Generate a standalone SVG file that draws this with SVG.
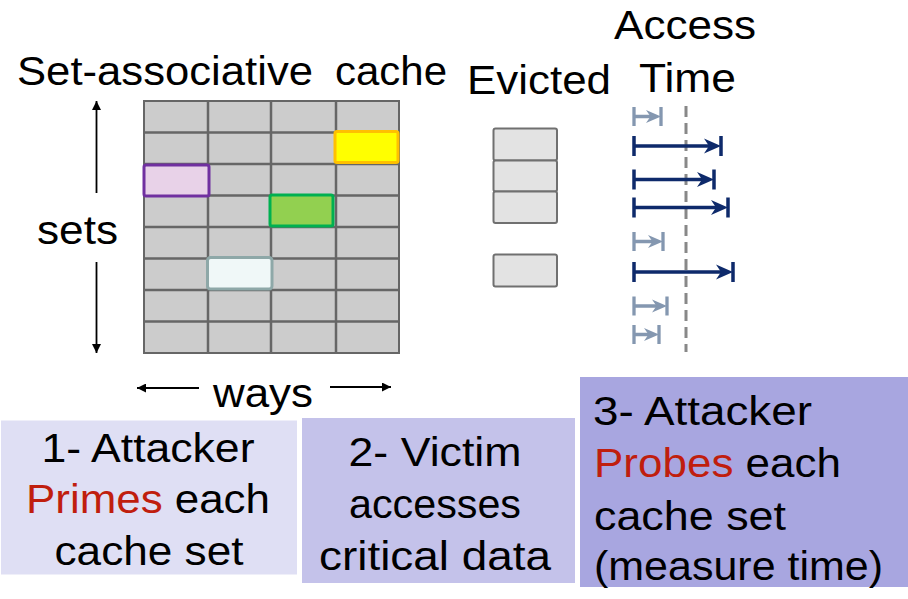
<svg xmlns="http://www.w3.org/2000/svg" xmlns:xlink="http://www.w3.org/1999/xlink" width="908" height="599" viewBox="0 0 908 599">
  <style>
    text { font-family: "Liberation Sans", Arial, Helvetica, sans-serif; font-size: 40px; fill: #000; }
    .red { fill: #C01E0E; }
    .cell { fill: #CCCCCC; stroke: #666666; stroke-width: 2; }
    .evict { fill: #E3E3E3; stroke: #707070; stroke-width: 2; }
    .axis { stroke: #000; stroke-width: 1.8; fill: none; }
    .dark { stroke: #0E2A6B; stroke-width: 3.5; fill: none; }
    .light { stroke: #8497B0; stroke-width: 3.3; fill: none; }
    .thr { stroke: #888888; stroke-width: 3; stroke-dasharray: 11 6; fill: none; }
  </style>
  <defs>
    <marker id="axisHead" viewBox="0 0 10 10" refX="10" refY="5" markerWidth="10" markerHeight="9" markerUnits="userSpaceOnUse" orient="auto">
      <path d="M0,0 L10,5 L0,10 Z" fill="#000"/>
    </marker>
    <!-- arrow tips, drawn with the point at the origin -->
    <path id="darkTip" d="M-17,-7.5 L0,0 L-17,7.5 L-12,0 Z" fill="#0E2A6B"/>
    <path id="lightTip" d="M-15,-6.5 L0,0 L-15,6.5 L-10.5,0 Z" fill="#8497B0"/>
  </defs>

  <!-- titles -->
  <g id="titles">
    <text x="17" y="85" textLength="296" lengthAdjust="spacingAndGlyphs">Set-associative</text>
    <text x="335" y="85" textLength="112" lengthAdjust="spacingAndGlyphs">cache</text>
    <text x="467" y="94" textLength="144" lengthAdjust="spacingAndGlyphs">Evicted</text>
    <text x="614" y="39" textLength="142" lengthAdjust="spacingAndGlyphs">Access</text>
    <text x="639" y="92" textLength="97" lengthAdjust="spacingAndGlyphs">Time</text>
  </g>

  <!-- cache grid: 4 ways x 8 sets -->
  <g id="cache">
    <rect class="cell" x="144" y="101" width="255" height="252"/>
    <path d="M208,101 V353 M271,101 V353 M336,101 V353 M144,132.5 H399 M144,164 H399 M144,195.5 H399 M144,227 H399 M144,258.5 H399 M144,290 H399 M144,321.5 H399" stroke="#666666" stroke-width="2.5" fill="none"/>
    <rect x="335" y="131.5" width="63" height="31" rx="2" fill="#FFFF00" stroke="#FFC000" stroke-width="3"/>
    <rect x="144" y="165" width="65" height="31" rx="2" fill="#E8D2E8" stroke="#7030A0" stroke-width="3"/>
    <rect x="270" y="195" width="63" height="31" rx="2" fill="#92D050" stroke="#00B050" stroke-width="3"/>
    <rect x="207.5" y="257.5" width="64.5" height="31.5" rx="3" fill="#F0F8F8" stroke="#8EA8A8" stroke-width="3"/>
  </g>

  <!-- axis labels -->
  <g id="sets">
    <line class="axis" x1="96.5" y1="193" x2="96.5" y2="101" marker-end="url(#axisHead)"/>
    <line class="axis" x1="96.5" y1="262" x2="96.5" y2="353" marker-end="url(#axisHead)"/>
    <text x="37" y="244" textLength="81" lengthAdjust="spacingAndGlyphs">sets</text>
  </g>
  <g id="ways">
    <line class="axis" x1="199" y1="388" x2="137" y2="388" marker-end="url(#axisHead)"/>
    <line class="axis" x1="330" y1="387" x2="391" y2="387" marker-end="url(#axisHead)"/>
    <text x="213" y="407" textLength="100" lengthAdjust="spacingAndGlyphs">ways</text>
  </g>

  <!-- evicted lines -->
  <g id="evicted">
    <rect class="evict" x="493.5" y="128.5" width="63.5" height="32" rx="2"/>
    <rect class="evict" x="493.5" y="160.5" width="63.5" height="31" rx="2"/>
    <rect class="evict" x="493.5" y="191.5" width="63.5" height="31.5" rx="2"/>
    <rect class="evict" x="493.5" y="254.5" width="63.5" height="32" rx="2"/>
  </g>

  <!-- access time per set: start tick, bar, arrow tip, end tick -->
  <g id="access-time">
    <line class="thr" x1="686" y1="106" x2="686" y2="352"/>
    <g class="light">
      <path d="M634,107 V126 M634,116.5 H652 M661,107 V126"/>
      <path d="M634,232 V251 M634,241.5 H654 M663,232 V251"/>
      <path d="M634,296.5 V315.5 M634,306 H658 M667,296.5 V315.5"/>
      <path d="M634,325 V344 M634,334.5 H650 M659,325 V344"/>
    </g>
    <use xlink:href="#lightTip" x="661" y="116.5"/>
    <use xlink:href="#lightTip" x="663" y="241.5"/>
    <use xlink:href="#lightTip" x="667" y="306"/>
    <use xlink:href="#lightTip" x="659" y="334.5"/>
    <g class="dark">
      <path d="M634,136 V156 M634,146 H710 M721,136 V156"/>
      <path d="M634,169.5 V189.5 M634,179.5 H703 M714,169.5 V189.5"/>
      <path d="M634,197.5 V217.5 M634,207.5 H717 M728,197.5 V217.5"/>
      <path d="M634,262 V282 M634,272 H722 M733,262 V282"/>
    </g>
    <use xlink:href="#darkTip" x="721" y="146"/>
    <use xlink:href="#darkTip" x="714" y="179.5"/>
    <use xlink:href="#darkTip" x="728" y="207.5"/>
    <use xlink:href="#darkTip" x="733" y="272"/>
  </g>

  <!-- step boxes -->
  <g id="step1">
    <rect x="1" y="420.5" width="296" height="154" fill="#DFDFF4"/>
    <text x="148" y="462" text-anchor="middle" textLength="213" lengthAdjust="spacingAndGlyphs">1- Attacker</text>
    <text x="148" y="513" text-anchor="middle" textLength="244" lengthAdjust="spacingAndGlyphs"><tspan class="red">Primes</tspan> each</text>
    <text x="149" y="565" text-anchor="middle" textLength="189" lengthAdjust="spacingAndGlyphs">cache set</text>
  </g>
  <g id="step2">
    <rect x="302" y="418" width="273" height="165" fill="#C4C2EA"/>
    <text x="435" y="466" text-anchor="middle" textLength="173" lengthAdjust="spacingAndGlyphs">2- Victim</text>
    <text x="435" y="518" text-anchor="middle" textLength="172" lengthAdjust="spacingAndGlyphs">accesses</text>
    <text x="435" y="570" text-anchor="middle" textLength="232" lengthAdjust="spacingAndGlyphs">critical data</text>
  </g>
  <g id="step3">
    <rect x="580" y="377" width="328" height="210" fill="#A8A6E0"/>
    <text x="593" y="425" textLength="219" lengthAdjust="spacingAndGlyphs">3- Attacker</text>
    <text x="594" y="477" textLength="247" lengthAdjust="spacingAndGlyphs"><tspan class="red">Probes</tspan> each</text>
    <text x="594" y="530" textLength="192" lengthAdjust="spacingAndGlyphs">cache set</text>
    <text x="594" y="580" textLength="289" lengthAdjust="spacingAndGlyphs">(measure time)</text>
  </g>
</svg>
